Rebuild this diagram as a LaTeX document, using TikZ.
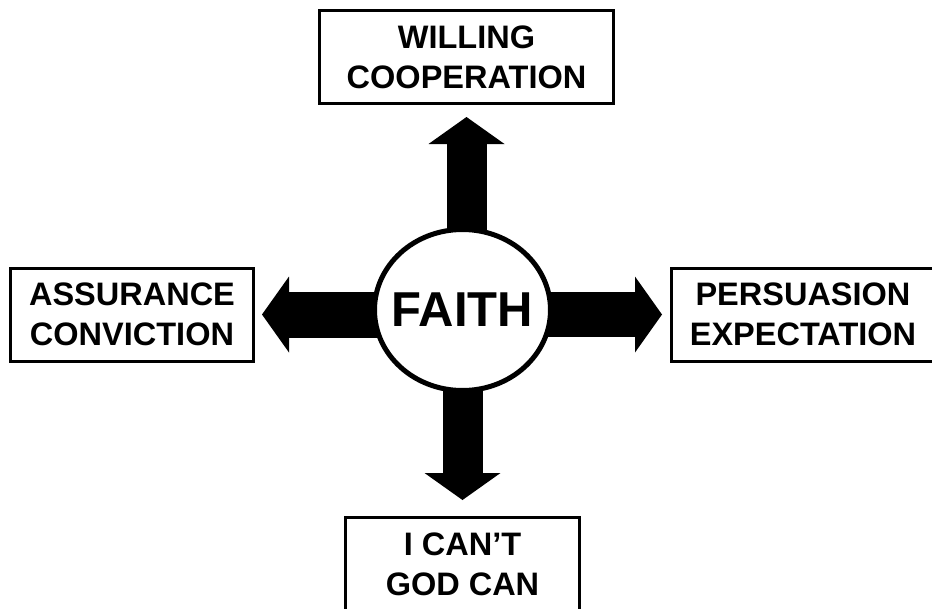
\documentclass[tikz,border=0pt]{standalone}
\usepackage{fontspec}
\setmainfont{Liberation Sans}
\usetikzlibrary{arrows.meta,shapes.geometric,backgrounds}

\begin{document}
\begin{tikzpicture}[x=1pt,y=-1pt,
  box/.style={draw,line width=3pt,minimum width=#1,minimum height=93pt,inner sep=0pt,
    align=center,font=\fontsize{32.5}{40}\selectfont\bfseries},
  fat/.style={line width=#1,-{Triangle[length=27pt,width=76pt,line width=0pt]}}]
  \useasboundingbox (0,0) rectangle (932,608);
  \clip (0,0) rectangle (932,608);
  \node[box=294pt] (coop)  at (466.5,57)  {WILLING\\COOPERATION};
  \node[box=243pt] (assur) at (132,314.5) {ASSURANCE\\CONVICTION};
  \node[box=263pt] (persu) at (803,314.5) {PERSUASION\\EXPECTATION};
  \node[box=234pt] (cant)  at (462.5,564) {I CAN’T\\GOD CAN};
  \node[ellipse,draw,line width=5pt,fill=white,minimum width=176pt,minimum height=161pt,
    inner sep=0pt,font=\fontsize{49}{49}\selectfont\bfseries] (faith) at (462.5,310)
    {\makebox[0pt]{FAITH}};
\begin{scope}[on background layer]
  \draw[fat=40pt,shorten >=12pt] (coop.south |- faith.center) -- (coop.south);
  \draw[fat=40pt,shorten >=16pt] (cant.north |- faith.center) -- (cant.north);
  \draw[fat=46pt,shorten >=7pt] (assur.east -| faith.center) -- (assur.east);
  \draw[fat=45pt,shorten >=8pt] (persu.west -| faith.center) -- (persu.west);
\end{scope}
\end{tikzpicture}
\end{document}
